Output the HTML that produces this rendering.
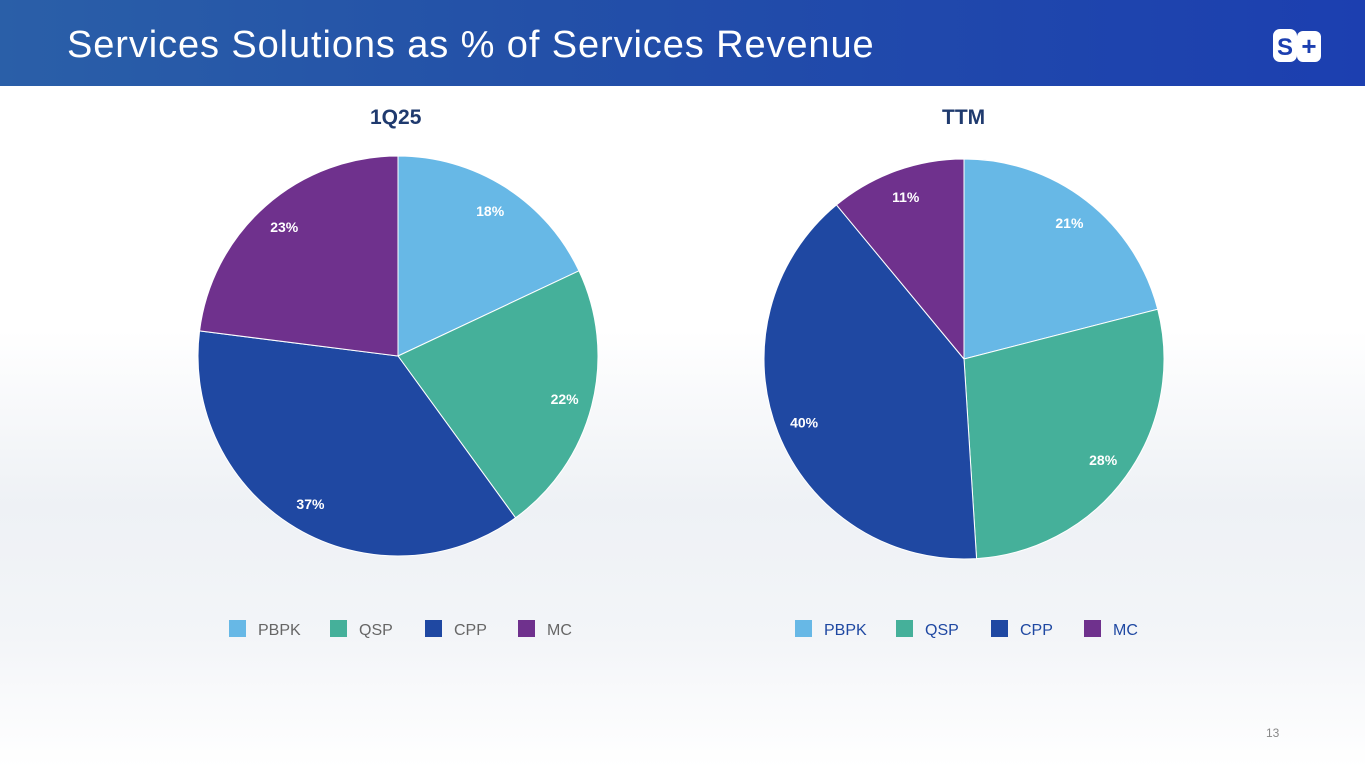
<!DOCTYPE html>
<html><head><meta charset="utf-8">
<style>
body{margin:0;width:1365px;height:768px;overflow:hidden;font-family:"Liberation Sans",sans-serif;background:#fff;position:relative}
#hdr{position:absolute;left:0;top:0;width:1365px;height:86px;background:linear-gradient(90deg,#2a5fa8 0%,#2350a8 40%,#1c3fb0 100%)}
#title{position:absolute;left:67px;top:24px;color:#fff;font-size:38px;letter-spacing:0.9px}
.ct{position:absolute;font-weight:bold;font-size:21px;color:#1f3a6e}
#pg{position:absolute;left:1266px;top:726px;font-size:12px;color:#888}
#bg{position:absolute;left:0;top:330px;width:1365px;height:438px;background:linear-gradient(180deg,#fff 0%,#eef1f5 40%,#f3f5f8 70%,#fff 100%)}
</style></head><body>
<div id="bg"></div>
<div id="hdr"></div>
<div id="title">Services Solutions as % of Services Revenue</div>
<svg style="position:absolute;left:1272px;top:27px" width="52" height="38">
<rect x="1" y="2" width="24" height="33" rx="7" fill="#fff"/><rect x="25" y="4" width="24" height="31" rx="6" fill="#fff"/>
<text x="13" y="28" font-size="24" font-weight="bold" fill="#1c3fb0" text-anchor="middle" font-family="Liberation Sans">S</text>
<text x="37" y="28" font-size="26" font-weight="bold" fill="#1c3fb0" text-anchor="middle" font-family="Liberation Sans">+</text>
</svg>
<div class="ct" style="left:370px;top:106px">1Q25</div>
<div class="ct" style="left:942px;top:106px">TTM</div>
<svg id="chart" style="position:absolute;left:0;top:0" width="1365" height="768"></svg>
<div id="pg">13</div>
<script>
const categories=["PBPK","QSP","CPP","MC"];
const colors=["#67b8e6","#45b09a","#1f48a2","#6f318d"];
const values1Q25=[18,22,37,23];
const valuesTTM=[21,28,40,11];
const NS="http://www.w3.org/2000/svg";
const svg=document.getElementById('chart');
function mk(t,a){const e=document.createElementNS(NS,t);for(const k in a)e.setAttribute(k,a[k]);svg.appendChild(e);return e;}
function pie(vals,cx,cy,r,name,legX,legColor){
  const tot=vals.reduce((a,b)=>a+b,0);let a0=0;
  vals.forEach((v,i)=>{
    const a1=a0+v/tot*2*Math.PI;
    const p=a=>[cx+r*Math.sin(a),cy-r*Math.cos(a)];
    const [x0,y0]=p(a0),[x1,y1]=p(a1);
    const s=mk('path',{d:`M${cx},${cy}L${x0},${y0}A${r},${r} 0 ${a1-a0>Math.PI?1:0} 1 ${x1},${y1}Z`,fill:colors[i],stroke:'#fff','stroke-width':1});
    
    
    const am=(a0+a1)/2,lr=r*0.86;
    const t=mk('text',{x:cx+lr*Math.sin(am),y:cy-lr*Math.cos(am)+5,'text-anchor':'middle','font-size':14,'font-weight':'bold',fill:'#fff','font-family':'Liberation Sans'});
    t.textContent=v+'%';
    
    
    a0=a1;
  });
  const offs=[0,101,196,289];
  categories.forEach((c,i)=>{
    const r1=mk('rect',{x:legX+offs[i],y:620,width:17,height:17,fill:colors[i]});
    
    
    const t=mk('text',{x:legX+offs[i]+29,y:635,'font-size':16,fill:legColor,'font-family':'Liberation Sans'});
    t.textContent=c;
    
    
  });
}
pie(values1Q25,398,356,200,'q1',229,'#666');
pie(valuesTTM,964,359,200,'ttm',795,'#1f48a2');
</script>
</body></html>
